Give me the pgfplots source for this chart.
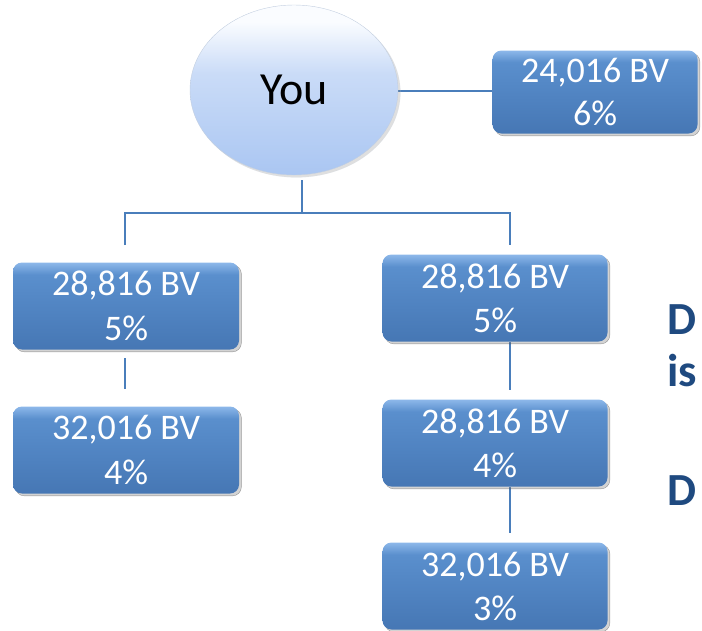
\documentclass[border=0pt]{standalone}
\usepackage{pgfplots}
\pgfplotsset{compat=1.18}
\usepackage{fontspec}
\setmainfont{Carlito}
\usetikzlibrary{shapes.geometric,shadows}
\definecolor{boxtop}{HTML}{8DB8EA}
\definecolor{boxup}{HTML}{5A8FCD}
\definecolor{boxmid}{HTML}{4F82C0}
\definecolor{boxbot}{HTML}{4677B4}
\definecolor{lineblue}{HTML}{4A7EBB}
\definecolor{ovaltop}{HTML}{FAFCFF}
\definecolor{ovalbot}{HTML}{AAC6F2}
\definecolor{darkblue}{HTML}{1F4A80}
\pgfdeclareverticalshading{boxshade}{100bp}{color(0bp)=(boxbot); color(25bp)=(boxbot); color(45bp)=(boxmid); color(68bp)=(boxup); color(75bp)=(boxtop); color(100bp)=(boxtop)}
\pgfdeclareverticalshading{ovalshade}{100bp}{color(0bp)=(ovalbot); color(25bp)=(ovalbot); color(55bp)=(ovalbot!60!ovaltop); color(70bp)=(ovaltop); color(100bp)=(ovaltop)}
\begin{document}
\begin{tikzpicture}
\begin{axis}[name=ax,
  scale only axis, width=702pt, height=630pt,
  xmin=0, xmax=702, ymin=0, ymax=630, y dir=reverse,
  hide axis, clip=false,
  point meta=explicit symbolic,
  nodes near coords={\pgfplotspointmeta},
]
% connectors
\addplot[lineblue, line width=1.6pt] coordinates {(398,91) (493,91)};
\addplot[lineblue, line width=1.6pt] coordinates {(302,180) (302,213)};
\addplot[lineblue, line width=1.6pt] coordinates {(125,245) (125,213) (510,213) (510,245)};
\addplot[lineblue, line width=1.6pt] coordinates {(125,358) (125,389)};
\addplot[lineblue, line width=1.6pt] coordinates {(510,342) (510,390)};
\addplot[lineblue, line width=1.6pt] coordinates {(510,487) (510,533)};
% oval
\addplot[only marks, mark=none,
  every node near coord/.style={anchor=center, ellipse, inner sep=0pt,
    minimum width=208pt, minimum height=170pt, shading=ovalshade,
    draw=ovalbot!80!black!50, line width=0.4pt, drop shadow={opacity=0.25},
    text=black, font=\fontsize{46}{50}\selectfont}]
  coordinates {(294,90) [You]};
% top right box
\addplot[only marks, mark=none,
  every node near coord/.style={anchor=center, rounded corners=9pt, inner sep=0pt,
    minimum width=205pt, minimum height=83pt, shading=boxshade,
    drop shadow={opacity=0.35}, text=white, align=center,
    font=\fontsize{36}{43}\selectfont}]
  coordinates {(595,92) [{24,016 BV\\6\%}]};
% left boxes
\addplot[only marks, mark=none,
  every node near coord/.style={anchor=center, rounded corners=9pt, inner sep=0pt,
    minimum width=226pt, minimum height=87pt, shading=boxshade,
    drop shadow={opacity=0.35}, text=white, align=center,
    font=\fontsize{36}{45}\selectfont}]
  coordinates {(126,306) [{28,816 BV\\5\%}] (126,450) [{32,016 BV\\4\%}]};
% right boxes
\addplot[only marks, mark=none,
  every node near coord/.style={anchor=center, rounded corners=9pt, inner sep=0pt,
    minimum width=225pt, minimum height=87pt, shading=boxshade,
    drop shadow={opacity=0.35}, text=white, align=center,
    font=\fontsize{36}{44}\selectfont}]
  coordinates {(495,298) [{28,816 BV\\5\%}] (495,443) [{28,816 BV\\4\%}] (495,586) [{32,016 BV\\3\%}]};
% right side text
\addplot[only marks, mark=none,
  every node near coord/.style={anchor=base west, inner sep=0pt, text=darkblue,
    font=\fontsize{46}{50}\selectfont\bfseries}]
  coordinates {(667,334) [D] (667,386) [is] (667,505) [D]};
\end{axis}
\pgfresetboundingbox
\path (ax.south west) rectangle (ax.north east);
\end{tikzpicture}
\end{document}
